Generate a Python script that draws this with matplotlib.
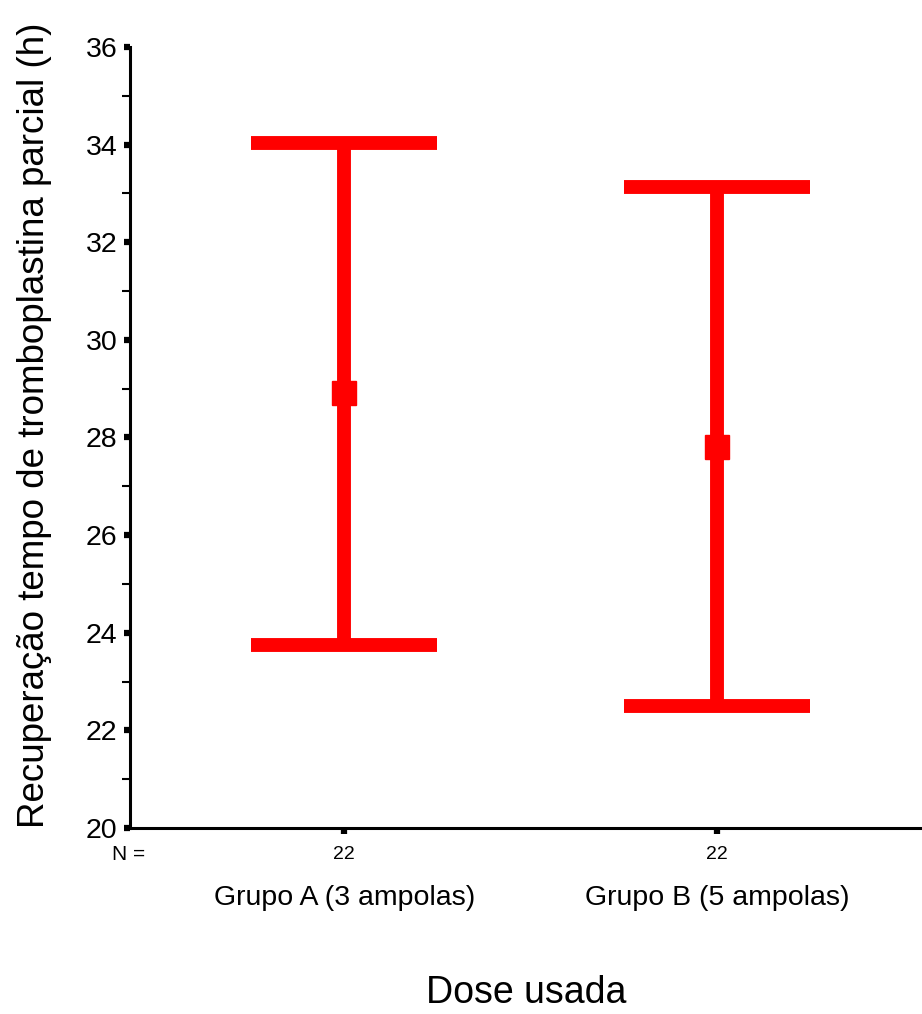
import matplotlib.pyplot as plt
import numpy as np

plt.rcParams['font.family'] = ['Liberation Sans', 'DejaVu Sans']

groups = ["Grupo A (3 ampolas)", "Grupo B (5 ampolas)"]
n_counts = ["22", "22"]
means = [28.91, 27.81]
upper = [34.04, 33.13]
lower = [23.75, 22.50]

red = "#ff0000"

fig = plt.figure(figsize=(9.22, 10.14), dpi=100)
ax = fig.add_axes([0.141, 0.1834, 0.859, 0.7703])

x = np.arange(1, len(groups) + 1)
for xi, m, lo, hi in zip(x, means, lower, upper):
    ax.plot([xi, xi], [lo, hi], color=red, lw=10, solid_capstyle="butt", zorder=2)
    ax.plot([xi - 0.25, xi + 0.25], [hi, hi], color=red, lw=10, solid_capstyle="butt", zorder=2)
    ax.plot([xi - 0.25, xi + 0.25], [lo, lo], color=red, lw=10, solid_capstyle="butt", zorder=2)
    ax.plot(xi, m, marker="s", ms=17, color=red, mec=red, zorder=3)

ax.set_xlim(0.425, 2.55)
ax.set_ylim(20, 36)
ax.spines["top"].set_visible(False)
ax.spines["right"].set_visible(False)
ax.spines["left"].set_linewidth(2.2)
ax.spines["bottom"].set_linewidth(2.2)

ax.set_yticks(np.arange(20, 37, 2))
ax.set_yticks(np.arange(21, 36, 2), minor=True)
ax.tick_params(axis="y", which="major", length=4, width=4.5, labelsize=20.5, pad=5)
ax.tick_params(axis="y", which="minor", length=6, width=1.5)

ax.set_xticks(x)
ax.set_xticklabels(n_counts)
ax.tick_params(axis="x", which="major", length=4, width=4.5, labelsize=14, pad=9)

fig.text(145 / 922, 1 - 855 / 1014, "N =", ha="right", va="center", fontsize=15)
for xi, g in zip(x, groups):
    ax.text(xi, 0, g, transform=ax.get_xaxis_transform(), ha="center", va="center",
            fontsize=20.5)
for t in ax.texts:
    t.set_y(-(898 - 828) / 781)

fig.text(0.5 + 0.5 * 0.141 + 0.0 / 922, 1 - 993 / 1014, "Dose usada", ha="center", va="center",
         fontsize=27)
fig.text(35 / 922, 1 - 425 / 1014, "Recuperação tempo de tromboplastina parcial (h)",
         rotation=90, ha="center", va="center", fontsize=26.5)

fig.savefig("out.png", dpi=100)
